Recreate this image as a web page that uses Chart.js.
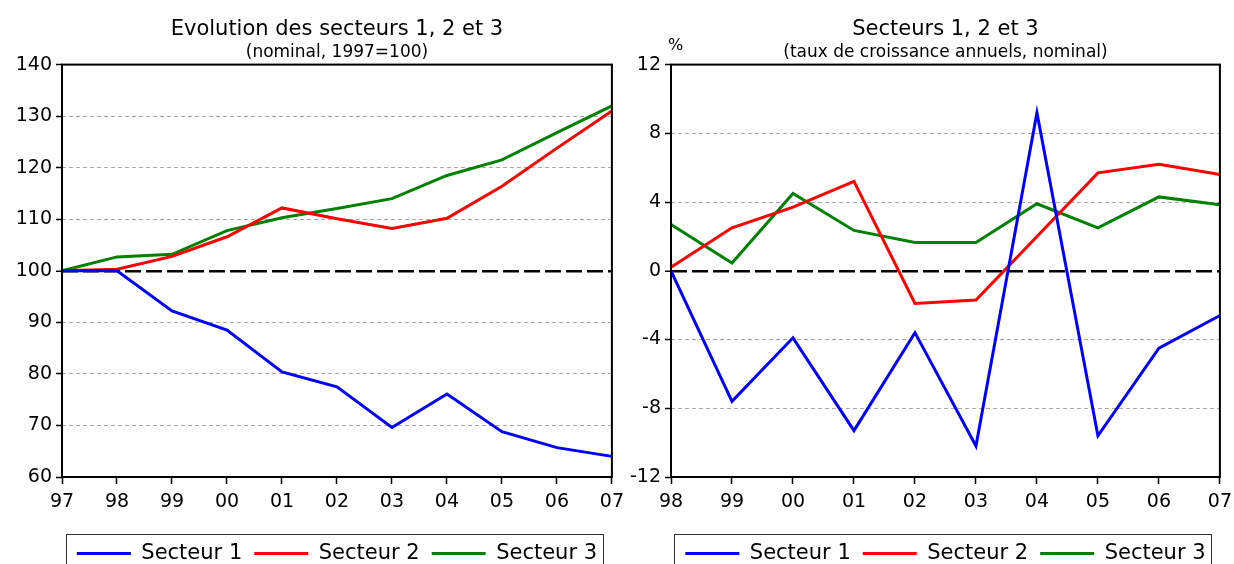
<!DOCTYPE html>
<html>
<head>
<meta charset="utf-8">
<script src="https://cdn.jsdelivr.net/npm/chart.js@4/dist/chart.umd.min.js"></script>
<style>
  html, body { margin: 0; padding: 0; background: #fff; overflow: hidden; }
  #wrap { position: relative; width: 1234px; height: 564px; overflow: hidden; }
  #leftChart { position: absolute; left: 0; top: 0; }
  #rightChart { position: absolute; left: 620px; top: 0; }
</style>
</head>
<body>
<div id="wrap">
  <canvas id="leftChart" width="631" height="574"></canvas>
  <canvas id="rightChart" width="619" height="574"></canvas>
</div>
<script>
// ---- data ----
const seriesNames = ["Secteur 1", "Secteur 2", "Secteur 3"];
const seriesColors = ["#0000ff", "#ff0000", "#008000"];

// left panel: index levels, 1997 = 100
const levelYears = ["97", "98", "99", "00", "01", "02", "03", "04", "05", "06", "07"];
const level1 = [100, 100, 92.2, 88.5, 80.4, 77.5, 69.6, 76.1, 68.8, 65.7, 64.0];
const level2 = [100, 100.3, 102.8, 106.6, 112.2, 110.1, 108.2, 110.2, 116.4, 123.8, 131.0];
const level3 = [100, 102.7, 103.2, 107.8, 110.3, 112.1, 114.0, 118.5, 121.5, 126.8, 132.0];

// right panel: annual growth rates, %
const growthYears = ["98", "99", "00", "01", "02", "03", "04", "05", "06", "07"];
const growth1 = [0, -7.6, -3.9, -9.3, -3.6, -10.2, 9.2, -9.6, -4.5, -2.6];
const growth2 = [0.2, 2.5, 3.7, 5.2, -1.9, -1.7, 2.0, 5.7, 6.2, 5.6];
const growth3 = [2.7, 0.45, 4.5, 2.35, 1.65, 1.65, 3.9, 2.5, 4.3, 3.85];

const leftTitle = "Evolution des secteurs 1, 2 et 3";
const leftSubtitle = "(nominal, 1997=100)";
const rightTitle = "Secteurs 1, 2 et 3";
const rightSubtitle = "(taux de croissance annuels, nominal)";
const rightUnit = "%";

const FONT = "'DejaVu Sans', Verdana, sans-serif";

// black frame around the plot area, boxed legend, optional unit label
const framePlugin = {
  id: "frame",
  afterDatasetsDraw(chart) {
    const a = chart.chartArea;
    const c = chart.ctx;
    c.save();
    c.strokeStyle = "#000";
    c.lineWidth = 2;
    c.strokeRect(a.left, a.top, a.right - a.left, a.bottom - a.top);
    c.restore();
  },
  afterDraw(chart, args, opts) {
    const c = chart.ctx;
    const boxes = chart.legend && chart.legend.legendHitBoxes;
    if (boxes && boxes.length) {
      const first = boxes[0];
      const last = boxes[boxes.length - 1];
      c.save();
      c.strokeStyle = "#333";
      c.lineWidth = 1;
      c.strokeRect(Math.round(first.left - 11) + 0.5, Math.round(first.top - 9) + 0.5,
        Math.round(last.left + last.width - first.left + 17), 60);
      c.restore();
    }
    if (opts.unit) {
      c.save();
      c.fillStyle = "#000";
      c.font = "16px " + FONT;
      c.textAlign = "left";
      c.textBaseline = "middle";
      c.fillText(opts.unit, chart.chartArea.left - 3, chart.chartArea.top - 19);
      c.restore();
    }
  }
};

function makeDatasets(values) {
  return values.map((vals, i) => ({
    label: seriesNames[i],
    data: vals,
    borderColor: seriesColors[i],
    backgroundColor: seriesColors[i],
    borderWidth: 3,
    pointRadius: 0,
    tension: 0
  }));
}

function makeChart(canvasId, labels, values, cfg) {
  const refValue = cfg.ref;
  return new Chart(document.getElementById(canvasId), {
    type: "line",
    data: { labels: labels, datasets: makeDatasets(values) },
    plugins: [framePlugin],
    options: {
      responsive: false,
      animation: false,
      layout: { padding: 0 },
      plugins: {
        frame: { unit: cfg.unit || "" },
        title: {
          display: true,
          text: cfg.title,
          fullSize: false,
          color: "#000",
          font: { family: FONT, size: 21, weight: "normal" },
          padding: { top: 17, bottom: 0 }
        },
        subtitle: {
          display: true,
          text: cfg.subtitle,
          fullSize: false,
          color: "#000",
          font: { family: FONT, size: 17, weight: "normal" },
          padding: { top: 0, bottom: 2 }
        },
        legend: {
          position: "bottom",
          fullSize: false,
          labels: {
            color: "#000",
            font: { family: FONT, size: 21 },
            boxWidth: 54,
            boxHeight: 3,
            padding: 12,
            generateLabels(chart) {
              return chart.data.datasets.map((ds, i) => ({
                text: ds.label,
                fillStyle: ds.borderColor,
                strokeStyle: ds.borderColor,
                lineWidth: 0,
                datasetIndex: i
              }));
            }
          }
        },
        tooltip: { enabled: false }
      },
      scales: {
        x: {
          type: "category",
          offset: false,
          border: { display: false },
          grid: {
            offset: false,
            drawOnChartArea: false,
            drawTicks: true,
            tickLength: 7,
            tickColor: "#000",
            tickWidth: 1.5
          },
          ticks: {
            autoSkip: false,
            maxRotation: 0,
            color: "#000",
            padding: 7,
            font: { family: FONT, size: 19 }
          },
          afterFit(s) { s.height = 54; }
        },
        y: {
          min: cfg.min,
          max: cfg.max,
          border: {
            display: false,
            dash(ctx) {
              if (!ctx.tick) return [];
              return ctx.tick.value === refValue ? [16, 5] : [4, 3];
            }
          },
          grid: {
            color(ctx) {
              const v = ctx.tick ? ctx.tick.value : null;
              if (v === refValue) return "#000";
              if (v === cfg.min || v === cfg.max) return "rgba(0,0,0,0)";
              return "#a8a8a8";
            },
            lineWidth(ctx) {
              return ctx.tick && ctx.tick.value === refValue ? 2.5 : 1;
            },
            drawTicks: true,
            tickLength: 6,
            tickColor: "#000",
            tickWidth: 1.5,
            tickBorderDash: []
          },
          ticks: {
            stepSize: cfg.step,
            color: "#000",
            padding: 4,
            font: { family: FONT, size: 19 }
          },
          afterFit(s) { s.width = cfg.axisWidth; }
        }
      }
    }
  });
}

makeChart("leftChart", levelYears, [level1, level2, level3], {
  title: leftTitle, subtitle: leftSubtitle,
  min: 60, max: 140, step: 10, ref: 100,
  axisWidth: 62
});

makeChart("rightChart", growthYears, [growth1, growth2, growth3], {
  title: rightTitle, subtitle: rightSubtitle, unit: rightUnit,
  min: -12, max: 12, step: 4, ref: 0,
  axisWidth: 51
});
</script>
</body>
</html>
